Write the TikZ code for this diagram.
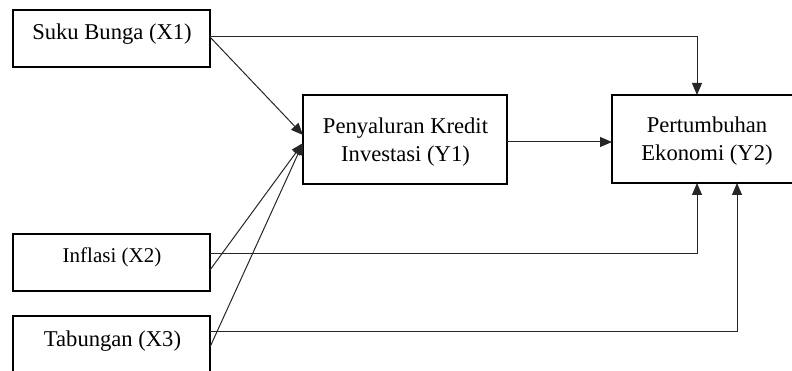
\documentclass[tikz,border=0pt]{standalone}
\usepackage{fontspec}
\setmainfont{Liberation Serif}
\usetikzlibrary{arrows.meta}
\begin{document}
\begin{tikzpicture}[x=1pt,y=-1pt,
  box/.style={draw, line width=1.6pt, inner sep=0pt, outer sep=0pt},
  lbl/.style={font=\fontsize{22.6}{28.5}\selectfont, align=center, inner sep=0pt, anchor=base},
  conn/.style={line width=1pt, draw=black!85, -{Triangle[length=12pt,width=10pt]}}]
\clip (0,0) rectangle (792,371);
% boxes
\node[box, minimum width=197pt, minimum height=57pt] (x1) at (111.5,38.5) {};
\node[box, minimum width=197pt, minimum height=57pt] (x2) at (111.5,262.5) {};
\node[box, minimum width=197pt, minimum height=64pt] (x3) at (111.5,348) {};
\node[box, minimum width=204pt, minimum height=89pt] (y1) at (405,139.5) {};
\node[box, minimum width=190pt, minimum height=88pt] (y2) at (707,139) {};
% texts
\node[lbl] (t1) at (112,40) {Suku Bunga (X1)};
\node[lbl, font=\fontsize{21}{26}\selectfont] (t2) at (112,263) {Inflasi (X2)};
\node[lbl] (t3) at (112.5,346) {Tabungan (X3)};
\node[lbl] (t4) at (405.5,162) {Penyaluran Kredit\\Investasi (Y1)};
\node[lbl] (t5) at (707,161) {Pertumbuhan\\Ekonomi (Y2)};
% connectors
\draw[conn] ([yshift=1.5pt]x1.east) -| ([xshift=-10pt]y2.north);
\draw[conn] ([yshift=1.5pt]x1.east) -- ([yshift=4.5pt]y1.west);
\draw[conn] ([yshift=-7.5pt]x2.east) -- ([yshift=-3.5pt]y1.west);
\draw[conn] ([yshift=1pt]x3.east) -- ([yshift=-3.5pt]y1.west);
\draw[conn] ([yshift=8.5pt]x2.east) -| ([xshift=-10pt]y2.south);
\draw[conn] ([yshift=17pt]x3.east) -| ([xshift=30pt]y2.south);
\draw[conn] ([yshift=-2.5pt]y1.east) -- ([yshift=-2.5pt]y1.east -| y2.west);
\end{tikzpicture}
\end{document}
